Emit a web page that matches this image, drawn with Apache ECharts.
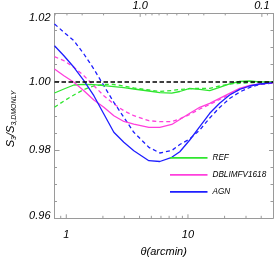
<!DOCTYPE html>
<html><head><meta charset="utf-8">
<script src="https://cdn.jsdelivr.net/npm/echarts@6/dist/echarts.min.js"></script>
<style>html,body{margin:0;padding:0;background:#fff}#c{width:274px;height:274px}</style>
</head><body><div id="c"></div>
<script>
// ---- data (theta in arcmin, ratio S3/S3,DMONLY) ----
const theta      = [0.8, 0.956, 1.155, 1.395, 1.685, 2.035, 2.459, 2.971, 3.589, 4.77, 5.87, 7.36, 8.57, 10.35, 12.5, 15.1, 18.2, 22.0, 26.6, 32.1, 38.8, 50];
const refSolid   = [0.99669,0.99786,0.99903,0.99924,0.99912,0.99883,0.99854,0.99824,0.99786,0.99728,0.99678,0.99663,0.99713,0.99801,0.99777,0.99736,0.99836,0.99933,1.00006,1.0002,0.99997,0.99991];
const refDashed  = [0.9925,0.99435,0.99611,0.99772,0.99874,0.99924,0.99918,0.99874,0.99816,0.99757,0.99713,0.99742,0.99772,0.99795,0.99807,0.99807,0.99874,0.99933,0.99953,0.99971,0.9998,0.99982];
const dblSolid   = [1.00372,1.00176,0.99982,0.99736,0.99464,0.9925,0.99004,0.98835,0.98761,0.98665,0.98665,0.98747,0.98893,0.99075,0.9925,0.99367,0.99514,0.9966,0.99807,0.99895,0.99933,0.99971];
const dblDashed  = [1.00732,1.00615,1.00422,1.00176,0.99883,0.9959,0.99347,0.99151,0.99004,0.98858,0.98829,0.98829,0.98914,0.9904,0.992,0.99332,0.99479,0.99625,0.99772,0.99874,0.99924,0.99968];
const agnSolid   = [1.01054,1.00761,1.00422,1.00029,0.9959,0.99054,0.98518,0.98225,0.97979,0.97687,0.97663,0.97786,0.9795,0.98293,0.98682,0.99075,0.99367,0.99611,0.99777,0.99874,0.99933,0.99971];
const agnDashed  = [1.0169,1.01447,1.012,1.00811,1.00372,0.99883,0.99397,0.98958,0.98518,0.98079,0.97912,0.97985,0.98161,0.98322,0.98586,0.98937,0.99245,0.99508,0.99698,0.9983,0.99918,0.99962];
const seriesNames = ['REF', 'DBLIMFV1618', 'AGN'];
const unity = 1.0;
const thetaRange = [0.8, 50];
const yRange = [0.96, 1.02];
const topScale = 4.05;        // top-axis value = topScale / theta
const xTickLabels = ['1', '10'];
const topTickLabels = ['1.0', '0.1'];
const yTickLabels = ['0.96', '0.98', '1.00', '1.02'];

const FONT = '"Liberation Sans", Arial, sans-serif';
const AXC = '#9a9a9a';
const COL = { REF: '#2fe62f', DBLIMFV1618: '#ff3fdc', AGN: '#1e1eff' };

function pairs(ys) { return theta.map((t, i) => [t, ys[i]]); }
function logTicks(lo, hi) {
  const out = [];
  for (let e = -3; e <= 3; e++) for (let k = 1; k <= 9; k++) {
    const v = +(k * Math.pow(10, e)).toPrecision(6);
    if (v > lo * 1.0001 && v < hi * 0.9999) out.push([v, k === 1 ? 1 : 0]);
  }
  return out;
}
const topRange = [topScale / thetaRange[1], topScale / thetaRange[0]];
const bottomTicks = logTicks(thetaRange[0], thetaRange[1]);
const topTicks = logTicks(topRange[0], topRange[1]);

function lineSeries(name, ys, dashed) {
  return {
    type: 'line', name: dashed ? name + ' (dashed)' : name, data: pairs(ys),
    xAxisIndex: 0, yAxisIndex: 0, symbol: 'none', showSymbol: false, silent: true,
    lineStyle: { color: COL[name], width: 1.3, type: dashed ? [4, 3] : 'solid' },
    itemStyle: { color: COL[name] }
  };
}

const chart = echarts.init(document.getElementById('c'), null, { renderer: 'canvas' });
const txt = { fontFamily: FONT, fontStyle: 'italic', color: '#000' };

chart.setOption({
  animation: false,
  backgroundColor: '#fff',
  grid: { left: 54.5, right: 1, top: 13.4, bottom: 55.7, containLabel: false, outerBoundsMode: 'none' },
  legend: {
    data: seriesNames.map(n => ({ name: n, icon: 'rect' })),
    orient: 'vertical', left: 170, top: 152.9, padding: 0,
    itemWidth: 37.5, itemHeight: 1.6, itemGap: 7,
    textStyle: Object.assign({ fontSize: 8.2, lineHeight: 10, padding: [0, 0, 0, 0] }, txt)
  },
  xAxis: [
    {
      type: 'log', position: 'bottom', min: thetaRange[0], max: thetaRange[1],
      name: 'θ(arcmin)', nameLocation: 'middle', nameGap: 28,
      nameTextStyle: Object.assign({ fontSize: 11 }, txt),
      axisLine: { show: true, lineStyle: { color: AXC, width: 1 } },
      axisTick: { show: false }, splitLine: { show: false }, minorTick: { show: false },
      axisLabel: Object.assign({ fontSize: 11, margin: 11, showMinLabel: false, showMaxLabel: false,
        formatter: v => { const i = [1, 10].indexOf(Math.round(v * 1000) / 1000); return i >= 0 ? xTickLabels[i] : ''; } }, txt)
    },
    {
      type: 'log', position: 'top', inverse: true, min: topRange[0], max: topRange[1],
      axisLine: { show: true, lineStyle: { color: AXC, width: 1 } },
      axisTick: { show: false }, splitLine: { show: false }, minorTick: { show: false },
      axisLabel: Object.assign({ fontSize: 11, margin: 2, showMinLabel: false, showMaxLabel: false,
        formatter: v => { const i = [1, 0.1].indexOf(Math.round(v * 1000) / 1000); return i >= 0 ? topTickLabels[i] : ''; } }, txt)
    }
  ],
  yAxis: [
    {
      type: 'value', position: 'left', min: yRange[0], max: yRange[1], interval: 0.02,
      name: '{a|S}{s|3}{a|/S}{s|3,DMONLY}', nameLocation: 'middle', nameGap: 37, nameRotate: 90,
      nameTextStyle: {
        padding: [0, 6, 0, 0],
        rich: {
          a: Object.assign({ fontSize: 11, lineHeight: 14, verticalAlign: 'middle' }, txt),
          s: Object.assign({ fontSize: 7, lineHeight: 8, verticalAlign: 'bottom' }, txt)
        }
      },
      axisLine: { show: true, lineStyle: { color: AXC, width: 1 } },
      axisTick: { show: true, inside: true, length: 5, lineStyle: { color: AXC } },
      minorTick: { show: true, splitNumber: 4, length: 2.5, lineStyle: { color: AXC } },
      splitLine: { show: false },
      axisLabel: {
        margin: 4, fontSize: 11, fontFamily: FONT, fontStyle: 'italic', color: '#000',
        formatter: v => {
          const i = Math.round((v - yRange[0]) / 0.02);
          const s = yTickLabels[i];
          if (i === 3) return '{t|' + s + '}';
          if (i === 0) return '{b|' + s + '}';
          return '{m|' + s + '}';
        },
        rich: {
          t: Object.assign({ fontSize: 11, padding: [10, 0, 0, 0] }, txt),
          b: Object.assign({ fontSize: 11, padding: [0, 0, 5, 0] }, txt),
          m: Object.assign({ fontSize: 11 }, txt)
        }
      }
    },
    {
      type: 'value', position: 'right', min: yRange[0], max: yRange[1], interval: 0.02,
      axisLine: { show: true, lineStyle: { color: AXC, width: 1 } },
      axisTick: { show: true, inside: true, length: 4, lineStyle: { color: AXC } },
      minorTick: { show: true, splitNumber: 4, length: 2.5, lineStyle: { color: AXC } },
      splitLine: { show: false }, axisLabel: { show: false }
    }
  ],
  series: [
    lineSeries('REF', refDashed, true),
    lineSeries('DBLIMFV1618', dblDashed, true),
    lineSeries('AGN', agnDashed, true),
    lineSeries('REF', refSolid, false),
    lineSeries('DBLIMFV1618', dblSolid, false),
    Object.assign(lineSeries('AGN', agnSolid, false), {
      markLine: {
        silent: true, symbol: 'none', label: { show: false }, z: 10,
        lineStyle: { color: '#000', width: 1.5, type: [4.5, 2.5] },
        data: [{ yAxis: unity }]
      }
    }),
    {
      type: 'custom', xAxisIndex: 0, yAxisIndex: 0, silent: true, data: bottomTicks,
      renderItem: (params, api) => {
        const x = api.coord([api.value(0), yRange[0]])[0];
        const cs = params.coordSys; const y0 = cs.y + cs.height;
        const len = api.value(1) ? 4 : 2.5;
        return { type: 'line', shape: { x1: x, y1: y0, x2: x, y2: y0 - len }, style: { stroke: AXC, lineWidth: 1 } };
      }
    },
    {
      type: 'custom', xAxisIndex: 1, yAxisIndex: 0, silent: true, data: topTicks,
      renderItem: (params, api) => {
        const x = api.coord([api.value(0), yRange[1]])[0];
        const cs = params.coordSys; const y0 = cs.y;
        const len = api.value(1) ? 3.5 : 2;
        return { type: 'line', shape: { x1: x, y1: y0, x2: x, y2: y0 + len }, style: { stroke: AXC, lineWidth: 1 } };
      }
    }
  ]
});
</script>
</body></html>
